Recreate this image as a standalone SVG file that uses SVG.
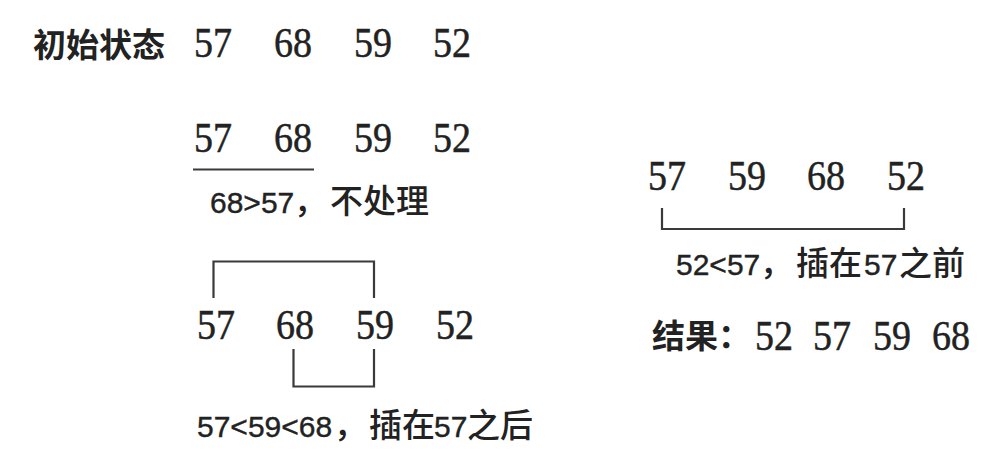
<svg xmlns="http://www.w3.org/2000/svg" width="1008" height="459" viewBox="0 0 1008 459">
<style>
.num{font-family:"Liberation Serif","Noto Serif",serif;font-size:42px;fill:#222;stroke:#222;stroke-width:0.5}
.lab{font-family:"Liberation Sans",sans-serif;font-size:30px;fill:#222;stroke:#222;stroke-width:0.4}
.lc{font-family:"Noto Sans CJK SC",sans-serif;font-size:33px;fill:#222;font-weight:500}
.cjk{font-family:"Noto Sans CJK SC",sans-serif;font-size:33px;fill:#222;font-weight:bold}
.ln{fill:none;stroke:#3a3a3a;stroke-width:2.2}
</style>
<rect width="1008" height="459" fill="#fff"/>
<g id="row-initial">
<text class="cjk" x="33" y="57">初始状态</text>
<text class="num" x="194" y="57" textLength="38" lengthAdjust="spacingAndGlyphs">57</text>
<text class="num" x="274" y="57" textLength="38" lengthAdjust="spacingAndGlyphs">68</text>
<text class="num" x="354" y="57" textLength="38" lengthAdjust="spacingAndGlyphs">59</text>
<text class="num" x="433" y="57" textLength="38" lengthAdjust="spacingAndGlyphs">52</text>
</g>
<g id="row-step1">
<text class="num" x="194" y="152" textLength="38" lengthAdjust="spacingAndGlyphs">57</text>
<text class="num" x="274" y="152" textLength="38" lengthAdjust="spacingAndGlyphs">68</text>
<text class="num" x="354" y="152" textLength="38" lengthAdjust="spacingAndGlyphs">59</text>
<text class="num" x="433" y="152" textLength="38" lengthAdjust="spacingAndGlyphs">52</text>
<text y="213"><tspan class="lab" x="210">68&gt;57</tspan><tspan class="lc" x="294">，</tspan><tspan class="lc" x="330">不处理</tspan></text>
</g>
<g id="row-step2">
<text class="num" x="197" y="339" textLength="38" lengthAdjust="spacingAndGlyphs">57</text>
<text class="num" x="276" y="339" textLength="38" lengthAdjust="spacingAndGlyphs">68</text>
<text class="num" x="356" y="339" textLength="38" lengthAdjust="spacingAndGlyphs">59</text>
<text class="num" x="436" y="339" textLength="38" lengthAdjust="spacingAndGlyphs">52</text>
<text y="437"><tspan class="lab" x="197">57&lt;59&lt;68</tspan><tspan class="lc" x="334">，</tspan><tspan class="lc" x="369">插在</tspan><tspan class="lab" x="434">57</tspan><tspan class="lc" x="467">之后</tspan></text>
</g>
<g id="row-step3">
<text class="num" x="648" y="190" textLength="38" lengthAdjust="spacingAndGlyphs">57</text>
<text class="num" x="728" y="190" textLength="38" lengthAdjust="spacingAndGlyphs">59</text>
<text class="num" x="807" y="190" textLength="38" lengthAdjust="spacingAndGlyphs">68</text>
<text class="num" x="887" y="190" textLength="38" lengthAdjust="spacingAndGlyphs">52</text>
<text y="275"><tspan class="lab" x="676">52&lt;57</tspan><tspan class="lc" x="760">，</tspan><tspan class="lc" x="796">插在</tspan><tspan class="lab" x="864">57</tspan><tspan class="lc" x="899">之前</tspan></text>
</g>
<g id="row-result">
<text class="cjk" x="652" y="348">结果：</text>
<text class="num" x="755" y="350" textLength="38" lengthAdjust="spacingAndGlyphs">52</text>
<text class="num" x="813" y="350" textLength="38" lengthAdjust="spacingAndGlyphs">57</text>
<text class="num" x="873" y="350" textLength="38" lengthAdjust="spacingAndGlyphs">59</text>
<text class="num" x="932" y="350" textLength="38" lengthAdjust="spacingAndGlyphs">68</text>
</g>
<g id="connectors">
<path class="ln" d="M193 169.5H314"/>
<path class="ln" d="M213.5 298V261.5H374V298"/>
<path class="ln" d="M293.5 349V386.5H374V349"/>
<path class="ln" d="M662 208V229H904V208"/>
</g>
</svg>
